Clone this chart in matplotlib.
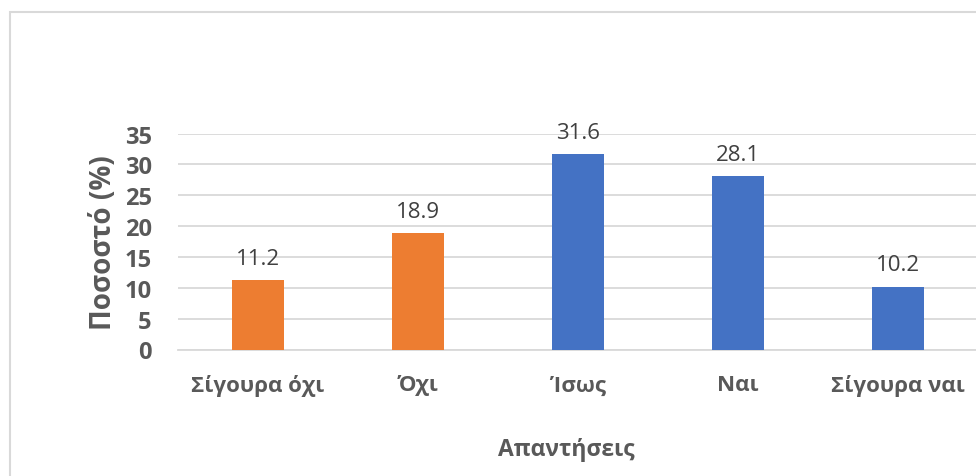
import matplotlib
matplotlib.use("Agg")
import matplotlib.pyplot as plt
from matplotlib.patches import Rectangle

categories = ["Σίγουρα όχι", "Όχι", "Ίσως", "Ναι", "Σίγουρα ναι"]
values = [11.2, 18.9, 31.6, 28.1, 10.2]
bar_colors = ["#ED7D31", "#ED7D31", "#4472C4", "#4472C4", "#4472C4"]
y_ticks = [0, 5, 10, 15, 20, 25, 30, 35]

plt.rcParams["font.family"] = ["Open Sans", "DejaVu Sans"]

W, H = 976, 477
fig = plt.figure(figsize=(W / 100, H / 100), dpi=100)
fig.patch.set_facecolor("white")

# chart frame (extends past the right and bottom edges)
fig.patches.append(Rectangle((10 / W, -0.1), 1.2, 1 - 13 / H + 0.1,
                             transform=fig.transFigure, fill=False,
                             edgecolor="#d9d9d9", linewidth=1.5, zorder=0))

left, right = 178 / W, 978 / W
bottom, top = 1 - 350.5 / H, 1 - 134.5 / H
ax = fig.add_axes([left, bottom, right - left, top - bottom])

x = range(len(categories))
ax.bar(x, values, width=0.32, color=bar_colors, zorder=3)
ax.set_xlim(-0.5, len(categories) - 0.5)
ax.set_ylim(0, 35)
ax.set_yticks(y_ticks)
ax.yaxis.grid(True, color="#d9d9d9", linewidth=1.3, zorder=0)
ax.set_axisbelow(True)
for s in ["top", "right", "left"]:
    ax.spines[s].set_visible(False)
ax.spines["bottom"].set_color("#d9d9d9")
ax.spines["bottom"].set_linewidth(1.3)
ax.tick_params(axis="both", length=0, colors="#595959")
ax.tick_params(axis="x", labelsize=16, pad=18)
ax.tick_params(axis="y", labelsize=17, pad=19)
ax.set_xticks(list(x))
ax.set_xticklabels(categories, fontweight="bold")
for lbl in ax.get_yticklabels():
    lbl.set_fontweight("bold")

for xi, v in zip(x, values):
    ax.annotate(f"{v}", (xi, v), xytext=(0, 8), textcoords="offset points",
                ha="center", va="bottom", fontsize=16, color="#404040")

ax.set_ylabel("Ποσοστό (%)", fontsize=20, fontweight="bold", color="#595959",
              labelpad=5)
ax.set_xlabel("Απαντήσεις", fontsize=16.5, fontweight="bold", color="#595959")
ax.xaxis.set_label_coords(0.486, -0.46)
ax.xaxis.label.set_verticalalignment("center")

fig.savefig("out.png", dpi=100, facecolor="white")
